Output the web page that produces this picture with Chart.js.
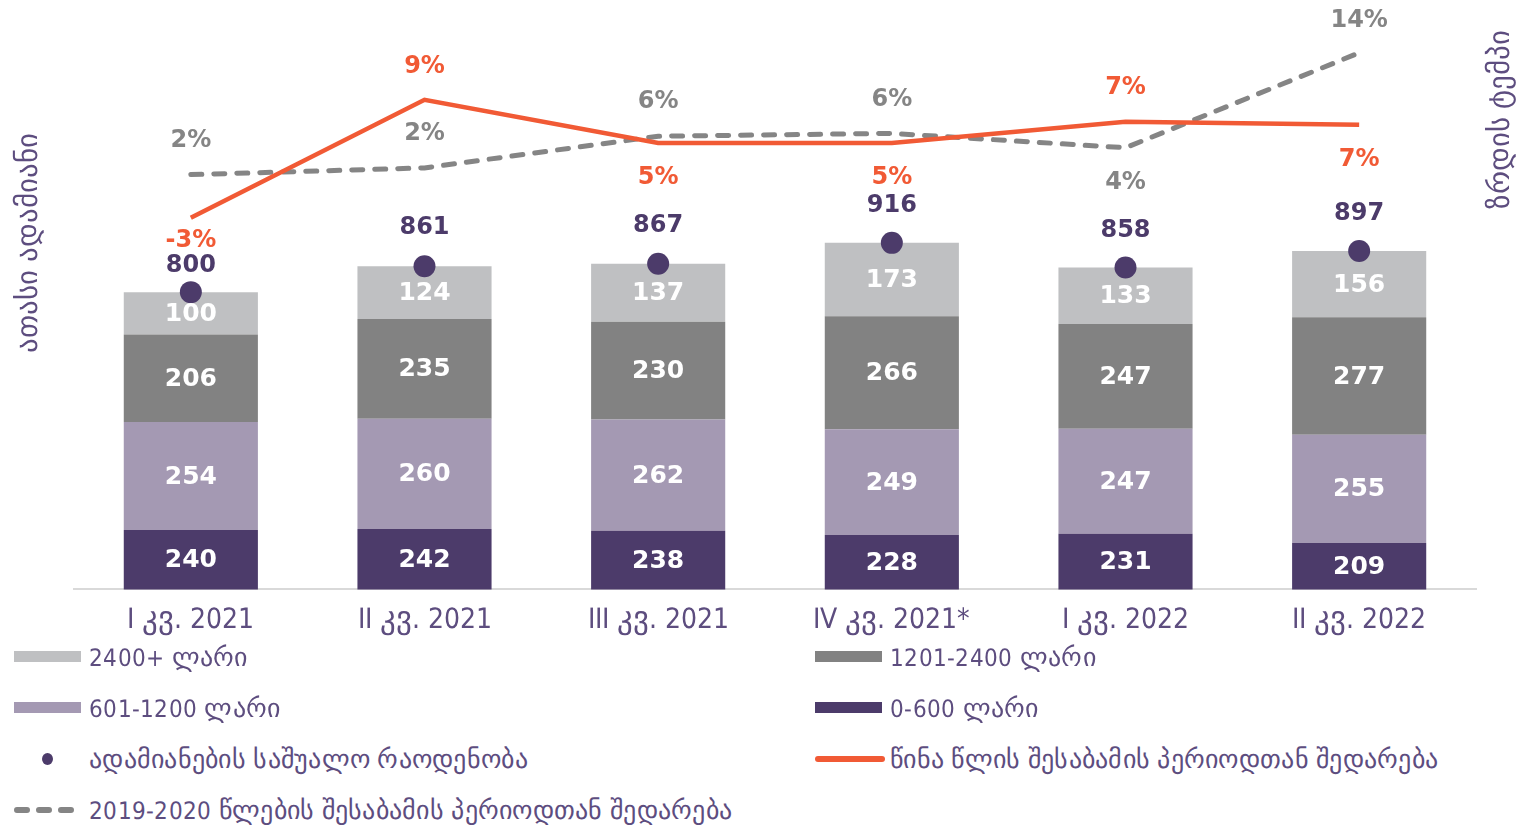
<!DOCTYPE html>
<html>
<head>
<meta charset="utf-8">
<script src="https://cdn.jsdelivr.net/npm/chart.js@4.4.0/dist/chart.umd.min.js"></script>
<style>
    /* digits and latin narrow, Georgian letters wider */
    @font-face { font-family: 'GeoMix'; src: local('DejaVu Sans Condensed'), local('DejaVuSansCondensed'); unicode-range: U+0000-10FF; }
    @font-face { font-family: 'GeoMix'; src: local('DejaVu Sans'), local('DejaVuSans'); unicode-range: U+10A0-10FF; size-adjust: 109%; }
    body { margin: 0; background: #fff; }
    #wrap { position: relative; width: 1530px; height: 825px; }
    #chart { position: absolute; left: 0; top: 0; }
    .legend-item { position: absolute; height: 30px; display: flex; align-items: center;
        font-family: 'GeoMix', 'DejaVu Sans Condensed', sans-serif; font-size: 24px; letter-spacing: 0.27px;
        color: #5d4d7f; white-space: nowrap; }
    .legend-mark { width: 67px; height: 30px; margin-right: 8px; position: relative; }
</style>
</head>
<body>
<div id="wrap">
    <canvas id="chart" width="1530" height="653"></canvas>
    <div id="legend"></div>
</div>
<script>
// Quarters
const quarters = ['I კვ. 2021', 'II კვ. 2021', 'III კვ. 2021', 'IV კვ. 2021*', 'I კვ. 2022', 'II კვ. 2022'];

// Thousand people by income group
const income0to600 = [240, 242, 238, 228, 231, 209];
const income601to1200 = [254, 260, 262, 249, 247, 255];
const income1201to2400 = [206, 235, 230, 266, 247, 277];
const income2400plus = [100, 124, 137, 173, 133, 156];

// Average number of people (thousands)
const avgPeople = [800, 861, 867, 916, 858, 897];

// Growth rates, %
const growthPrevYear = [-2.9, 9.4, 4.9, 4.9, 7.1, 6.8];
const growthVs2019 = [1.6, 2.3, 5.6, 5.9, 4.4, 14.3];

const purple = '#4c3b6a';
const textPurple = '#5d4d7f';
const orange = '#f15a35';
const dashGray = '#858585';
const mixFont = '"GeoMix", "DejaVu Sans Condensed", sans-serif';

// Draws the numbers on bars, dots and lines
const valueLabels = {
    id: 'valueLabels',
    afterDatasetsDraw(chart) {
        const ctx = chart.ctx;
        const bottom = chart.chartArea.bottom;
        ctx.save();
        ctx.textAlign = 'center';
        ctx.textBaseline = 'middle';
        chart.data.datasets.forEach((ds, i) => {
            const meta = chart.getDatasetMeta(i);
            meta.data.forEach((el, j) => {
                const v = ds.data[j];
                if (meta.type === 'bar') {
                    // axis starts at 100, so the lowest segment is cut at the axis line
                    const base = Math.min(el.base, bottom);
                    ctx.font = 'bold 25px "DejaVu Sans", sans-serif';
                    ctx.fillStyle = '#ffffff';
                    ctx.fillText(v, el.x, (el.y + base) / 2 + 1);
                } else {
                    ctx.font = 'bold 24px "DejaVu Sans", sans-serif';
                    ctx.fillStyle = ds.labelColor;
                    const txt = ds.isPercent ? Math.round(v) + '%' : v;
                    ctx.fillText(txt, el.x, el.y + ds.labelShift[j]);
                }
            });
        });
        ctx.restore();
    }
};

// Rotated axis titles
const axisTitles = {
    id: 'axisTitles',
    afterDraw(chart) {
        const ctx = chart.ctx;
        ctx.save();
        ctx.font = '27px ' + mixFont;
        ctx.fillStyle = textPurple;
        ctx.textAlign = 'center';
        ctx.textBaseline = 'middle';
        [['ათასი ადამიანი', 30, 243], ['ზრდის ტემპი', 1502, 119]].forEach(t => {
            ctx.save();
            ctx.translate(t[1], t[2]);
            ctx.rotate(-Math.PI / 2);
            ctx.fillText(t[0], 0, 0);
            ctx.restore();
        });
        ctx.restore();
    }
};

let chart;

function drawChart() {
    chart = new Chart(document.getElementById('chart'), {
        type: 'bar',
        data: {
            labels: quarters,
            datasets: [
                {
                    type: 'line',
                    label: 'ადამიანების საშუალო რაოდენობა',
                    data: avgPeople,
                    yAxisID: 'y',
                    showLine: false,
                    pointRadius: 11,
                    pointBackgroundColor: purple,
                    pointBorderWidth: 0,
                    backgroundColor: purple,
                    labelColor: purple,
                    labelShift: [-26, -38, -38, -37, -37, -37],
                    order: 0
                },
                {
                    type: 'line',
                    label: 'წინა წლის შესაბამის პერიოდთან შედარება',
                    data: growthPrevYear,
                    yAxisID: 'y1',
                    borderColor: orange,
                    borderWidth: 4.5,
                    pointRadius: 0,
                    tension: 0,
                    isPercent: true,
                    labelColor: orange,
                    labelShift: [23, -33, 35, 35, -34, 35],
                    order: 1
                },
                {
                    type: 'line',
                    label: '2019-2020 წლების შესაბამის პერიოდთან შედარება',
                    data: growthVs2019,
                    yAxisID: 'y1',
                    borderColor: dashGray,
                    borderWidth: 5,
                    borderDash: [11, 12],
                    borderCapStyle: 'round',
                    pointRadius: 0,
                    tension: 0,
                    isPercent: true,
                    labelColor: dashGray,
                    labelShift: [-34, -34, -34, -34, 35, -32],
                    order: 1
                },
                { type: 'bar', label: '0-600 ლარი', data: income0to600, backgroundColor: purple, stack: 's', order: 2 },
                { type: 'bar', label: '601-1200 ლარი', data: income601to1200, backgroundColor: '#a499b3', stack: 's', order: 2 },
                { type: 'bar', label: '1201-2400 ლარი', data: income1201to2400, backgroundColor: '#828282', stack: 's', order: 2 },
                { type: 'bar', label: '2400+ ლარი', data: income2400plus, backgroundColor: '#bfc0c2', stack: 's', order: 2 }
            ]
        },
        options: {
            responsive: false,
            animation: false,
            datasets: {
                bar: { categoryPercentage: 1, barPercentage: 0.574 }
            },
            layout: { padding: { left: 74, right: 54, top: 10, bottom: 0 } },
            scales: {
                x: {
                    stacked: true,
                    grid: { display: false, drawTicks: false },
                    border: { color: '#d9d9d9', width: 2 },
                    ticks: {
                        color: textPurple,
                        padding: 15,
                        font: { family: mixFont, size: 28 }
                    }
                },
                y: {
                    display: false,
                    stacked: true,
                    min: 100,
                    max: 1462
                },
                y1: {
                    display: false,
                    position: 'right',
                    min: -41.65,
                    max: 18.66
                }
            },
            plugins: {
                legend: { display: false },
                tooltip: { enabled: false }
            }
        },
        plugins: [valueLabels, axisTitles]
    });
    buildLegend();
}

// HTML legend in two columns
function buildLegend() {
    const legend = document.getElementById('legend');
    const legendOrder = [6, 5, 4, 3, 0, 1, 2];
    legendOrder.forEach((dsIndex, k) => {
        const ds = chart.data.datasets[dsIndex];
        const col = k % 2;
        const row = Math.floor(k / 2);
        const item = document.createElement('div');
        item.className = 'legend-item';
        item.style.left = (col === 0 ? 14 : 815) + 'px';
        item.style.top = (657 + row * 51 - 15) + 'px';

        let mark;
        if (ds.type === 'bar') {
            mark = `<div style="position:absolute;left:0;top:9px;width:67px;height:11px;background:${ds.backgroundColor}"></div>`;
        } else if (ds.showLine === false) {
            mark = `<div style="position:absolute;left:28px;top:9px;width:11px;height:12px;border-radius:50%;background:${ds.pointBackgroundColor}"></div>`;
        } else if (ds.borderDash) {
            mark = `<svg width="67" height="30" style="position:absolute;left:0;top:0"><line x1="3" y1="15" x2="64" y2="15" stroke="${ds.borderColor}" stroke-width="6" stroke-linecap="round" stroke-dasharray="10 12"/></svg>`;
        } else {
            mark = `<svg width="70" height="30" style="position:absolute;left:0;top:0"><line x1="3" y1="15" x2="67" y2="15" stroke="${ds.borderColor}" stroke-width="6" stroke-linecap="round"/></svg>`;
        }
        item.innerHTML = `<div class="legend-mark">${mark}</div><span>${ds.label}</span>`;
        legend.appendChild(item);
    });
}

Promise.all([
    document.fonts.load('28px GeoMix', 'აბგ 2021'),
    document.fonts.load('bold 25px "DejaVu Sans"', '0123456789%')
]).catch(() => {}).then(drawChart);
</script>
</body>
</html>
